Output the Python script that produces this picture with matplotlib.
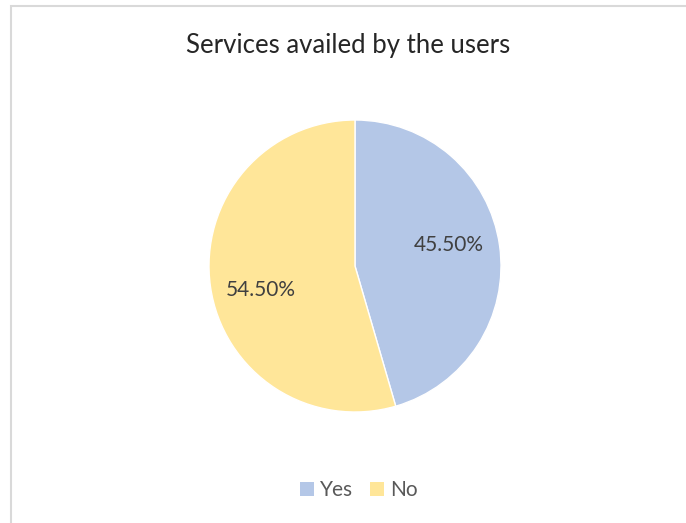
import matplotlib.pyplot as plt
from matplotlib.patches import Rectangle, Patch

plt.rcParams['font.family'] = ['Lato', 'DejaVu Sans']

labels = ["Yes", "No"]
shares = [45.5, 54.5]
colors = ["#B4C7E7", "#FFE699"]
# vertical nudges for the percentage labels, in pie radii
label_dy = [0.05, -0.07]

W, H = 686, 523
fig = plt.figure(figsize=(W / 100, H / 100), dpi=100)

# chart frame (only the left and top edges fall inside the image)
fig.patches.append(Rectangle((10.5 / W, -0.1), 1.2, 1.1 - 6.5 / H,
                             transform=fig.transFigure, fill=False,
                             edgecolor="#d9d9d9", linewidth=1.5))

cx, cy, r = 355, H - 266, 146
ax = fig.add_axes([(cx - r) / W, (cy - r) / H, 2 * r / W, 2 * r / H])
wedges, texts = ax.pie(shares, colors=colors, startangle=90, counterclock=False,
                       radius=1, labels=[f"{s:.2f}%" for s in shares],
                       labeldistance=0.65,
                       wedgeprops=dict(edgecolor="white", linewidth=1))
for t, dy in zip(texts, label_dy):
    x, y = t.get_position()
    t.set_position((x, y + dy))
    t.set_ha("center")
    t.set_va("center")
    t.set_fontsize(15)
    t.set_color("#404040")
ax.set_xlim(-1, 1)
ax.set_ylim(-1, 1)
ax.set_aspect("equal")
ax.axis("off")

fig.text(348 / W, 1 - 46 / H, "Services availed by the users", ha="center",
         va="center", fontsize=18.5, color="#262626")

handles = [Patch(facecolor=c, edgecolor="none") for c in colors]
fig.legend(handles, labels, loc="center", bbox_to_anchor=(359 / W, 1 - 490 / H),
           ncol=2, frameon=False, fontsize=15, labelcolor="#595959",
           handlelength=0.67, handleheight=0.67, handletextpad=0.3,
           columnspacing=0.8)

fig.savefig("out.png", dpi=100)
